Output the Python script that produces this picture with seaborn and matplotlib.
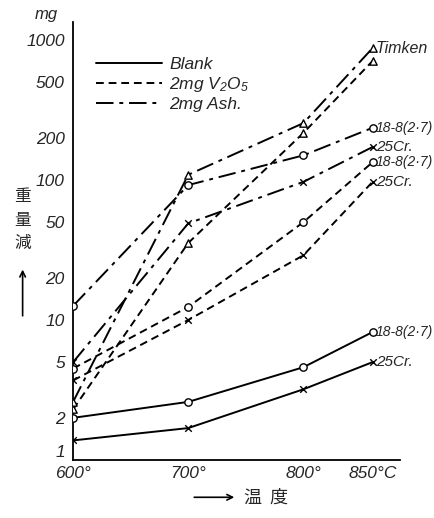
import numpy as np
import pandas as pd
import matplotlib
matplotlib.use('Agg')
import matplotlib.pyplot as plt
import seaborn as sns

# Weight loss (mg) vs temperature
temps = [600, 700, 800, 850]

blank_188 = [2.0, 2.6, 4.6, 8.2]
blank_25cr = [1.38, 1.69, 3.2, 5.0]

v2o5_timken = [2.3, 35.5, 217, 708]
v2o5_188 = [4.5, 12.4, 50, 134]
v2o5_25cr = [3.7, 10, 29, 97]

ash_timken = [2.6, 109, 255, 875]
ash_188 = [12.6, 92, 150, 236]
ash_25cr = [5.0, 49, 97, 172]

y_ticks = [1, 2, 5, 10, 20, 50, 100, 200, 500, 1000]
x_labels = ['600°', '700°', '800°', '850°C']
legend_labels = ['Blank', '2mg V$_2$O$_5$', '2mg Ash.']

rows = []
series = [('Blank', '18-8', blank_188), ('Blank', '25Cr', blank_25cr),
          ('V2O5', 'Timken', v2o5_timken), ('V2O5', '18-8', v2o5_188), ('V2O5', '25Cr', v2o5_25cr),
          ('Ash', 'Timken', ash_timken), ('Ash', '18-8', ash_188), ('Ash', '25Cr', ash_25cr)]
for cond, mat, vals in series:
    for t, v in zip(temps, vals):
        rows.append({'temp': t, 'loss': v, 'cond': cond, 'mat': mat})
df = pd.DataFrame(rows)

sns.set_style('white')
plt.rcParams['font.family'] = ['Liberation Sans', 'DejaVu Sans', 'Noto Sans CJK JP']
plt.rcParams['mathtext.fontset'] = 'custom'
plt.rcParams['mathtext.it'] = 'Liberation Sans:italic'
plt.rcParams['mathtext.rm'] = 'Liberation Sans:italic'

# the original x axis is stretched between 800 and 850
def fwd(t):
    t = np.asarray(t, dtype=float)
    return np.where(t <= 800, (t - 600) / 100, 2 + (t - 800) / 50 * 0.6)

def inv(u):
    u = np.asarray(u, dtype=float)
    return np.where(u <= 2, 600 + u * 100, 800 + (u - 2) / 0.6 * 50)

fig = plt.figure(figsize=(4.35, 5.18), dpi=100)
ax = fig.add_axes([0.168, 0.112, 0.752, 0.846])

dash_map = {'Blank': None, 'V2O5': (4, 2.5), 'Ash': (9, 3, 2, 3)}
marker_map = {'Timken': '^', '18-8': 'o', '25Cr': 'x'}

for (cond, mat), g in df.groupby(['cond', 'mat'], sort=False):
    sns.lineplot(data=g, x='temp', y='loss', ax=ax, color='black', lw=1.4,
                 estimator=None)
    if dash_map[cond]:
        ax.lines[-1].set_dashes(dash_map[cond])
    sns.scatterplot(data=g, x='temp', y='loss', ax=ax, marker=marker_map[mat],
                    s=28 if mat != '25Cr' else 22, color='black',
                    facecolor='white' if mat != '25Cr' else 'black',
                    edgecolor='black', linewidth=1.0, zorder=3, legend=False)

ax.set_xscale('function', functions=(fwd, inv))
ax.set_yscale('log')
ax.set_xlim(600, 870)
ax.set_ylim(1, 1350)
ax.set_yticks(y_ticks)
ax.set_yticklabels([str(v) for v in y_ticks], style='italic', fontsize=12.5)
ax.get_yticklabels()[0].set_va('bottom')
ax.minorticks_off()
ax.set_xticks(temps)
ax.set_xticklabels(x_labels, style='italic', fontsize=12.5)
ax.tick_params(direction='in', length=5, width=1)
ax.tick_params(axis='x', pad=4)
ax.tick_params(axis='y', pad=6)
ax.set_xlabel('')
ax.set_ylabel('')
for s in ['top', 'right']:
    ax.spines[s].set_visible(False)
for s in ['left', 'bottom']:
    ax.spines[s].set_linewidth(1.3)
    ax.spines[s].set_color('black')

# legend
handles = [plt.Line2D([], [], color='black', lw=1.4),
           plt.Line2D([], [], color='black', lw=1.4, dashes=(4, 2.5)),
           plt.Line2D([], [], color='black', lw=1.4, dashes=(9, 3, 2, 3))]
ax.legend(handles, legend_labels, loc='upper left', bbox_to_anchor=(0.05, 0.935),
          frameon=False, handlelength=3.8, handletextpad=0.4,
          prop={'style': 'italic', 'size': 12.5}, labelspacing=0.15, borderaxespad=0)

# end-of-line labels
ends = [(ash_timken[-1], 'Timken', 11.5), (ash_188[-1], '18-8(2·7)', 10),
        (ash_25cr[-1], '25Cr.', 11), (v2o5_188[-1], '18-8(2·7)', 10),
        (v2o5_25cr[-1], '25Cr.', 11), (blank_188[-1], '18-8(2·7)', 10),
        (blank_25cr[-1], '25Cr.', 11)]
for v, txt, fs in ends:
    ax.annotate(txt, (850, v), xytext=(2.5, 0), textcoords='offset points',
                va='center', ha='left', style='italic', fontsize=fs)

fig.text(0.08, 0.972, 'mg', style='italic', fontsize=12, ha='left', va='center')
fig.text(0.052, 0.575, '重\n量\n減', family=['Noto Sans CJK JP'], fontsize=12,
         ha='center', va='center', linespacing=1.5)
fig.add_artist(matplotlib.patches.FancyArrowPatch((0.052, 0.385), (0.052, 0.485),
               transform=fig.transFigure, arrowstyle='->', mutation_scale=10,
               color='black', lw=1.2))
fig.add_artist(matplotlib.patches.FancyArrowPatch((0.44, 0.04), (0.545, 0.04),
               transform=fig.transFigure, arrowstyle='->', mutation_scale=10,
               color='black', lw=1.2))
fig.text(0.562, 0.04, '温  度', family=['Noto Sans CJK JP'], fontsize=13,
         ha='left', va='center')

fig.savefig('out.png', dpi=100)
